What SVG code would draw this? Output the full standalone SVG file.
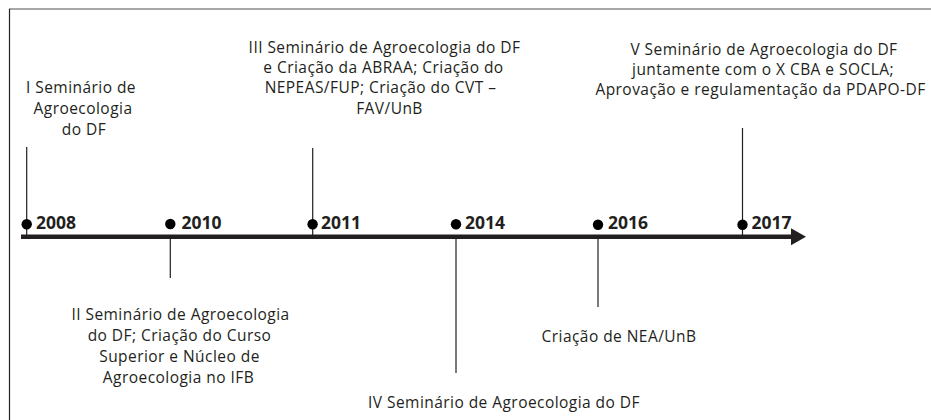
<svg xmlns="http://www.w3.org/2000/svg" width="931" height="420" viewBox="0 0 931 420">
<style>
.t{font-family:"Open Sans","Noto Sans",sans-serif;font-size:15.5px;letter-spacing:0.45px;fill:#231f20;text-anchor:middle}
.y{font-family:"Open Sans","Noto Sans",sans-serif;font-size:17.5px;font-weight:bold;fill:#231f20}
.v{stroke:#231f20;stroke-width:1.2;fill:none}
.d{fill:#000}
</style>
<defs>
<marker id="ah" markerWidth="16" markerHeight="18" refX="1" refY="9" orient="auto" markerUnits="userSpaceOnUse">
<path d="M0,0.5 L15,9 L0,17.5 Z" fill="#231f20"/>
</marker>
</defs>
<rect x="0" y="0" width="931" height="420" fill="#fff"/>
<line x1="9" y1="9" x2="931" y2="9" stroke="#8a8a8a" stroke-width="1.6"/>
<line x1="9.5" y1="9" x2="9.5" y2="420" stroke="#222" stroke-width="1.2"/>
<g id="connectors">
<line x1="21" y1="236.7" x2="792" y2="236.7" stroke="#231f20" stroke-width="4.5" marker-end="url(#ah)"/>
<line class="v" x1="26.7" y1="147" x2="26.7" y2="236"/>
<line class="v" x1="170.3" y1="236" x2="170.3" y2="278"/>
<line class="v" x1="312.7" y1="148" x2="312.7" y2="236"/>
<line class="v" x1="456" y1="236" x2="456" y2="373"/>
<line class="v" x1="598" y1="236" x2="598" y2="307"/>
<line class="v" x1="742.5" y1="128" x2="742.5" y2="236"/>
</g>
<g id="n2008">
<circle class="d" cx="26.7" cy="224.3" r="5.2"/>
<text class="y" x="36" y="228.5">2008</text>
<text class="t" x="81" y="93.3">I Seminário de</text>
<text class="t" x="83" y="114">Agroecologia</text>
<text class="t" x="84" y="134.7">do DF</text>
</g>
<g id="n2010">
<circle class="d" cx="170.3" cy="224" r="5.2"/>
<text class="y" x="181.5" y="228.5">2010</text>
<text class="t" x="180.5" y="320">II Seminário de Agroecologia</text>
<text class="t" x="179.5" y="341">do DF; Criação do Curso</text>
<text class="t" x="179.5" y="362">Superior e Núcleo de</text>
<text class="t" x="178.5" y="383">Agroecologia no IFB</text>
</g>
<g id="n2011">
<circle class="d" cx="312.6" cy="224.3" r="5.2"/>
<text class="y" x="321" y="228.5">2011</text>
<text class="t" x="384.5" y="52.5">III Seminário de Agroecologia do DF</text>
<text class="t" x="383.5" y="73">e Criação da ABRAA; Criação do</text>
<text class="t" x="380.5" y="93">NEPEAS/FUP; Criação do CVT –</text>
<text class="t" x="389.5" y="113.5">FAV/UnB</text>
</g>
<g id="n2014">
<circle class="d" cx="456" cy="224.3" r="5.2"/>
<text class="y" x="465" y="228.5">2014</text>
<text class="t" x="504" y="408">IV Seminário de Agroecologia do DF</text>
</g>
<g id="n2016">
<circle class="d" cx="598" cy="224.8" r="5.2"/>
<text class="y" x="608" y="229">2016</text>
<text class="t" x="619" y="341.5">Criação de NEA/UnB</text>
</g>
<g id="n2017">
<circle class="d" cx="742.5" cy="224.8" r="5.2"/>
<text class="y" x="751.5" y="228.5">2017</text>
<text class="t" x="764" y="54.5">V Seminário de Agroecologia do DF</text>
<text class="t" x="763" y="74.5">juntamente com o X CBA e SOCLA;</text>
<text class="t" x="760.5" y="94.5">Aprovação e regulamentação da PDAPO-DF</text>
</g>
</svg>
